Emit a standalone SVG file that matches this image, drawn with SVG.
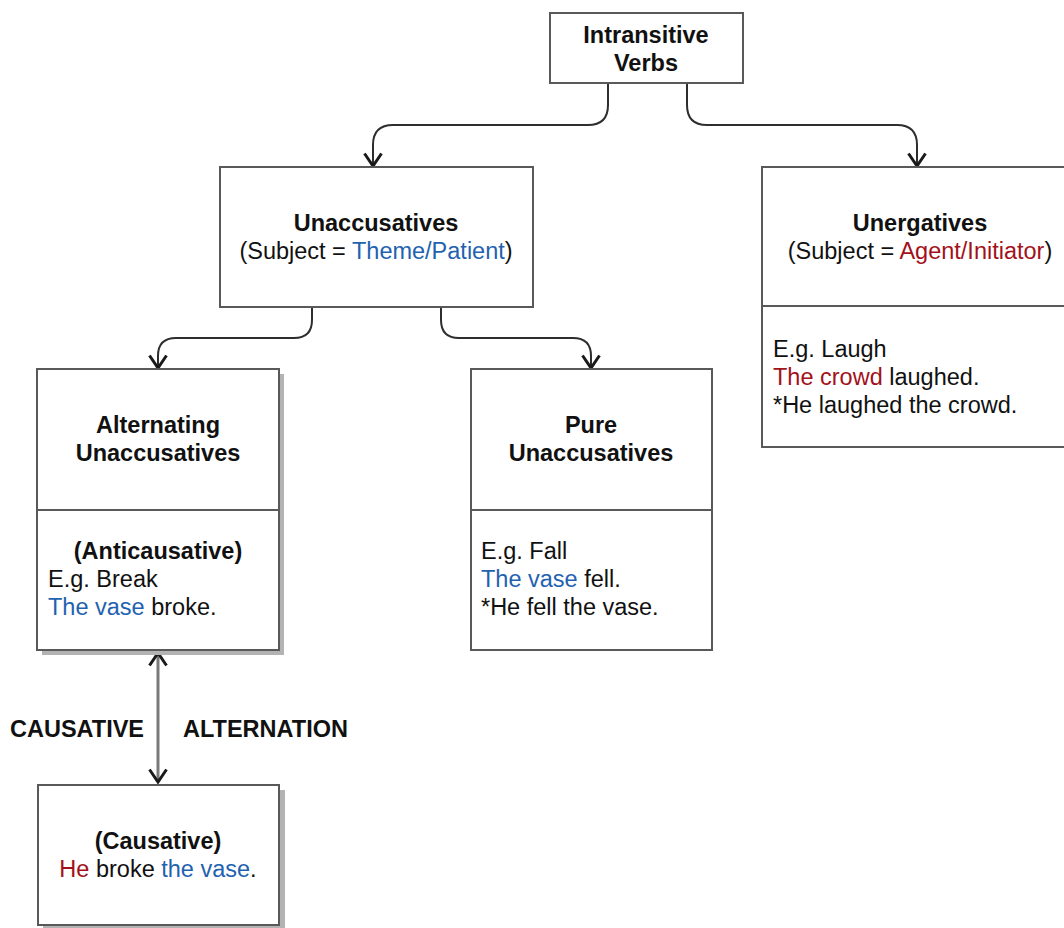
<svg xmlns="http://www.w3.org/2000/svg" width="1064" height="928" viewBox="0 0 1064 928">
<defs>
<style>
.box{fill:#ffffff;stroke:#595959;stroke-width:2}
.shadow{fill:#b3b3b3;stroke:none}
.div{stroke:#595959;stroke-width:2;fill:none}
.conn{fill:none;stroke:#2e2e2e;stroke-width:2}
.alt{fill:none;stroke:#7a7a7a;stroke-width:3}
text{font-family:"Liberation Sans",Arial,Helvetica,sans-serif;font-size:23.5px;fill:#111111}
.b{font-weight:bold}
.c{text-anchor:middle}
.blue{fill:#1f62b0}
.red{fill:#a3111a}
</style>
<marker id="arr" viewBox="0 0 16 20" refX="14" refY="10" markerWidth="16" markerHeight="20" markerUnits="userSpaceOnUse" orient="auto-start-reverse">
<path d="M1.5,1.5 L14,10 L1.5,18.5" fill="none" stroke="#1a1a1a" stroke-width="3"/>
</marker>
</defs>
<rect width="1064" height="928" fill="#ffffff"/>
<g id="connectors">
<path class="conn" d="M608,83 V105 Q608,125 588,125 H393 Q373,125 373,145 V166" marker-end="url(#arr)"/>
<path class="conn" d="M687,83 V105 Q687,125 707,125 H897 Q917,125 917,145 V166" marker-end="url(#arr)"/>
<path class="conn" d="M312,307 V320 Q312,338 294,338 H176 Q158,338 158,356 V368" marker-end="url(#arr)"/>
<path class="conn" d="M441,307 V320 Q441,338 459,338 H573 Q591,338 591,356 V368" marker-end="url(#arr)"/>
<path class="alt" d="M158,653 V782" marker-start="url(#arr)" marker-end="url(#arr)"/>
</g>
<g id="intransitive">
<rect class="box" x="550" y="13" width="193" height="70"/>
<text class="b c" x="646" y="43">Intransitive</text>
<text class="b c" x="646" y="71">Verbs</text>
</g>
<g id="unaccusatives">
<rect class="box" x="220" y="167" width="313" height="140"/>
<text class="b c" x="376" y="231">Unaccusatives</text>
<text class="c" x="376" y="259">(Subject = <tspan class="blue">Theme/Patient</tspan>)</text>
</g>
<g id="unergatives">
<rect class="box" x="762" y="167" width="320" height="280"/>
<line class="div" x1="762" y1="306" x2="1082" y2="306"/>
<text class="b c" x="920" y="231">Unergatives</text>
<text class="c" x="920" y="259">(Subject = <tspan class="red">Agent/Initiator</tspan>)</text>
<text x="773" y="357">E.g. Laugh</text>
<text x="773" y="385"><tspan class="red">The crowd</tspan> laughed.</text>
<text x="773" y="413">*He laughed the crowd.</text>
</g>
<g id="alternating">
<rect class="shadow" x="42" y="374" width="242" height="281"/>
<rect class="box" x="37" y="369" width="242" height="281"/>
<line class="div" x1="37" y1="510" x2="279" y2="510"/>
<text class="b c" x="158" y="433">Alternating</text>
<text class="b c" x="158" y="461">Unaccusatives</text>
<text class="b c" x="158" y="559">(Anticausative)</text>
<text x="48" y="587">E.g. Break</text>
<text x="48" y="615"><tspan class="blue">The vase</tspan> broke.</text>
</g>
<g id="pure">
<rect class="box" x="471" y="369" width="241" height="281"/>
<line class="div" x1="471" y1="510" x2="712" y2="510"/>
<text class="b c" x="591" y="433">Pure</text>
<text class="b c" x="591" y="461">Unaccusatives</text>
<text x="481" y="559">E.g. Fall</text>
<text x="481" y="587"><tspan class="blue">The vase</tspan> fell.</text>
<text x="481" y="615">*He fell the vase.</text>
</g>
<g id="causative">
<rect class="shadow" x="43" y="790" width="242" height="140"/>
<rect class="box" x="38" y="785" width="241" height="140"/>
<text class="b c" x="158" y="849">(Causative)</text>
<text class="c" x="158" y="877"><tspan class="red">He</tspan> broke <tspan class="blue">the vase</tspan>.</text>
</g>
<g id="labels">
<text class="b" x="10" y="737">CAUSATIVE</text>
<text class="b" x="183" y="737">ALTERNATION</text>
</g>
</svg>
